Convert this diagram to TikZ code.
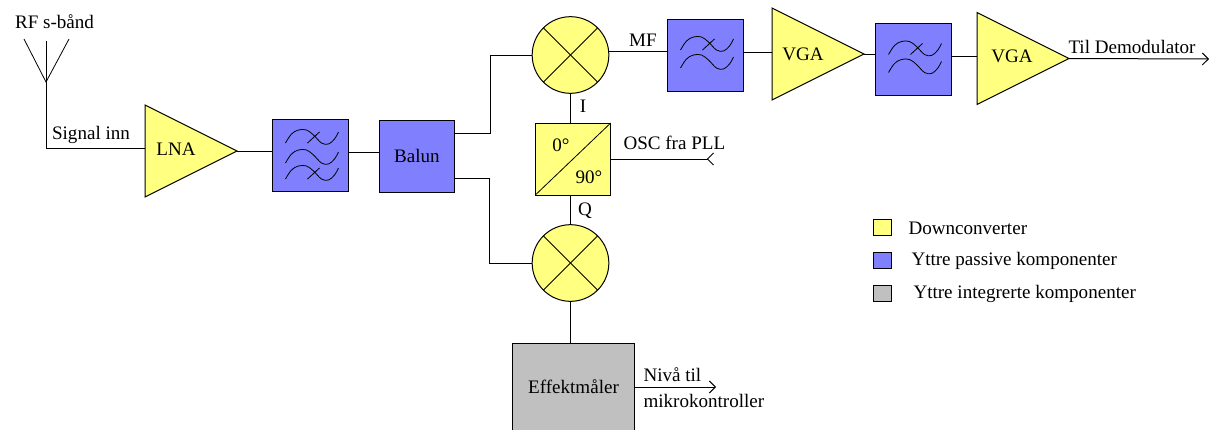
\documentclass[tikz,border=0pt]{standalone}
\usepackage{fontspec}
\setmainfont{Liberation Serif}
\usetikzlibrary{shapes.geometric,arrows.meta}

\definecolor{ampyellow}{HTML}{FFFF80}
\definecolor{passiveblue}{HTML}{8080FF}
\definecolor{activegray}{HTML}{C0C0C0}

\tikzset{
    every node/.style={font=\fontsize{14.3}{16}\selectfont},
    block/.style={draw, outer sep=0pt, inner sep=0pt, minimum width=56.5pt, minimum height=54pt},
    filterbox/.style={block, fill=passiveblue},
    amp/.style={draw, fill=ampyellow, isosceles triangle, isosceles triangle stretches, anchor=lower side,
        outer sep=0pt, inner sep=0pt, minimum width=69pt, minimum height=69pt},
    mixer/.style={draw, circle, fill=ampyellow, outer sep=0pt, inner sep=0pt, minimum size=57.5pt},
    legendbox/.style={draw, outer sep=0pt, minimum width=13.5pt, minimum height=12pt, inner sep=0pt},
    tiparrow/.style={-{Straight Barb[length=4.5pt,width=9pt]}},
    tipreversed/.style={-{Straight Barb[length=4.5pt,width=9pt,reversed]}},
    wave/.style={line width=0.6pt}
}

% one wave of the filter symbol, #1 is the box and #2 moves it up or down
\newcommand{\filterwave}[2]{
    \draw [wave, shift={(#1)}, shift={(0,#2)}] plot [smooth, tension=0.6] coordinates
        {(-25,0) (-19,-9) (-12,-13) (-4,-13) (3,-8) (11,0) (18,1) (24,-4) (28,-11)};
}
\newcommand{\filtercross}[2]{
    \draw [wave, shift={(#1)}, shift={(0,#2)}] (-3,0) -- (9,-11);
}

\begin{document}
\begin{tikzpicture}[x=0.75pt, y=-0.75pt, line width=0.75pt, line join=miter]
    \useasboundingbox (0,0) rectangle (1210,429);

    % antenna
    \coordinate (antbase) at (46,82);
    \coordinate (antleft) at (24,39);
    \coordinate (antmid) at (46,41);
    \coordinate (antright) at (69,39);
    \node (rflabel) at (54.5,22) {RF s-bånd};
    \draw [line width=0.6pt] (antleft) -- (antbase) -- (antright);
    \draw [line width=0.6pt] (antmid) -- (antbase);

    % blocks along the upper path
    \node [amp] (lna) at (145,151) {};
    \node (lnalabel) at (176,149) {LNA};
    \node [filterbox] (filtera) at (310.5,155) {};
    \node [filterbox] (balun) at (417,156) {Balun};
    \node [mixer] (mixi) at (570.5,55) {};
    \node [mixer] (mixq) at (570.5,263) {};
    \node [block, fill=ampyellow] (split) at (573,159) {};
    \node [filterbox] (filterb) at (705.5,55) {};
    \node [amp] (vgaa) at (772,54) {};
    \node (vgaalabel) at (803,54) {VGA};
    \node [filterbox] (filterc) at (913.5,59.5) {};
    \node [amp] (vgab) at (977,58.5) {};
    \node (vgablabel) at (1012,56) {VGA};
    \node [block, fill=activegray, minimum width=91pt, minimum height=66pt] (power) at (573.5,387) {Effektmåler};

    % filter symbols
    \filterwave{filtera}{-12}
    \filterwave{filtera}{8}
    \filterwave{filtera}{24}
    \filtercross{filtera}{-12}
    \filtercross{filtera}{24}
    \filterwave{filterb}{-5}
    \filterwave{filterb}{13}
    \filtercross{filterb}{-5}
    \filterwave{filterc}{-5}
    \filterwave{filterc}{13}
    \filtercross{filterc}{-5}

    % mixers and splitter
    \foreach \m in {mixi,mixq} {
        \draw [line width=0.6pt] (\m.45) -- (\m.225);
        \draw [line width=0.6pt] (\m.135) -- (\m.-45);
    }
    \draw [line width=0.6pt] (split.south west) -- (split.north east);
    \node (zerolabel) at (561,145) {0\textdegree};
    \node (ninetylabel) at (589,177) {90\textdegree};

    % connectors
    \draw (antbase) |- ([yshift=2.25pt]lna.lower side);
    \draw (lna.apex) -- (lna.apex -| filtera.west);
    \draw ([yshift=3pt]balun.west -| filtera.east) -- ([yshift=3pt]balun.west);
    \draw ([yshift=17.25pt]balun.east) -- ++(36,0) |- (mixi.west);
    \draw ([yshift=-16.5pt]balun.east) -- ++(35,0) |- (mixq.west);
    \draw ([yshift=3pt]mixi.east) -- ([yshift=3pt]mixi.east -| filterb.west);
    \draw ([yshift=2.25pt]filterb.east) -- ([yshift=2.25pt]filterb.east -| vgaa.lower side);
    \draw (vgaa.apex) -- (vgaa.apex -| filterc.west);
    \draw ([yshift=2.25pt]filterc.east) -- ([yshift=2.25pt]filterc.east -| vgab.lower side);
    \draw (mixi.south) -- (mixi.south |- split.north);
    \draw (mixq.north |- split.south) -- (mixq.north);
    \draw (mixq.south) -- (mixq.south |- power.north);
    \coordinate (oscend) at (714,159);
    \coordinate (demodend) at (1209,59);
    \coordinate (levelend) at (716,387);
    \draw [tipreversed] (split.east) -- (oscend);
    \draw [tiparrow] (vgab.apex) -- (demodend);
    \draw [tiparrow] (power.east) -- (levelend);

    % signal labels
    \node (signallabel) at (91,135) {Signal inn};
    \node (mflabel) at (643,40) {MF};
    \node (ilabel) at (583,106) {I};
    \node (qlabel) at (585,211) {Q};
    \node [right, inner sep=0pt] (osclabel) at (623,143) {OSC fra PLL};
    \node [right, inner sep=0pt] (demodlabel) at (1068,47) {Til Demodulator};
    \node [right, inner sep=0pt] (levellabel) at (643,375) {Nivå til};
    \node [right, inner sep=0pt] (microlabel) at (643,401) {mikrokontroller};

    % legend
    \node [legendbox, fill=ampyellow] (legenda) at (882,227) {};
    \node [legendbox, fill=passiveblue] (legendb) at (882,260) {};
    \node [legendbox, fill=activegray] (legendc) at (882,293) {};
    \node [right, inner sep=0pt] (legendatext) at (908,228) {Downconverter};
    \node [right, inner sep=0pt] (legendbtext) at (911,261) {Yttre passive komponenter};
    \node [right, inner sep=0pt] (legendctext) at (913,294) {Yttre integrerte komponenter};
\end{tikzpicture}
\end{document}
